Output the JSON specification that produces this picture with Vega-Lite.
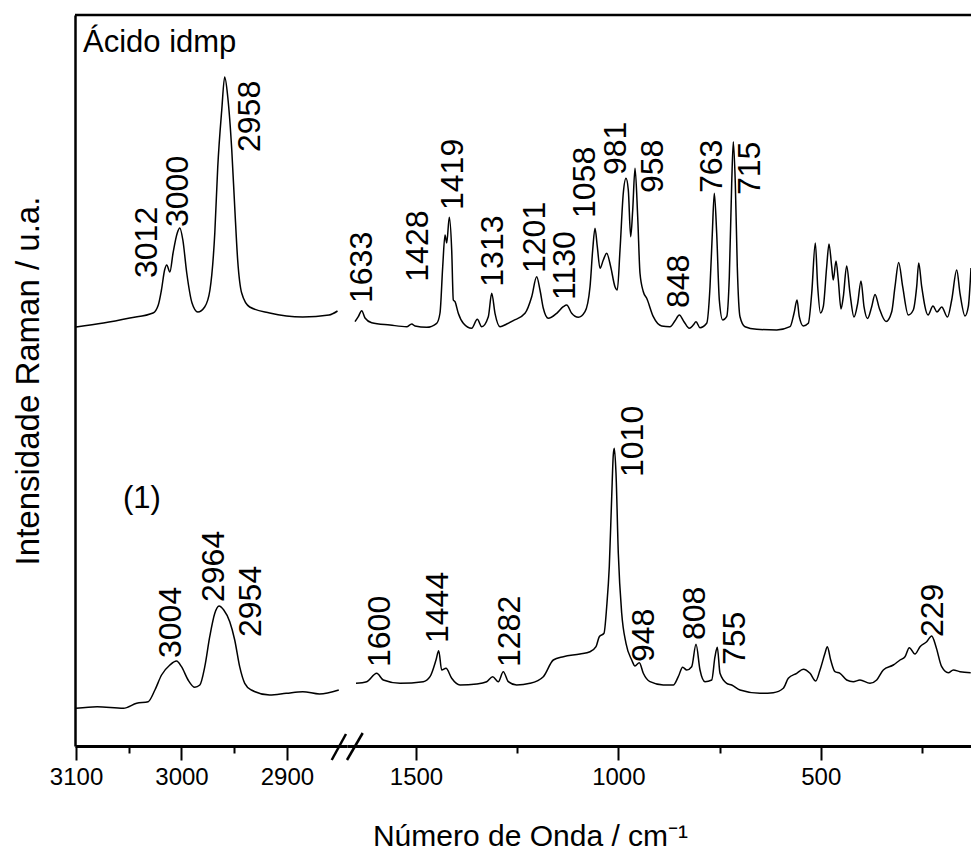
{
"$schema": "https://vega.github.io/schema/vega-lite/v6.json",
"width": 896,
"height": 731,
"autosize": {"type": "none"},
"padding": {"left": 75, "top": 15, "right": 0, "bottom": 106},
"background": "white",
"config": {"font": "Liberation Sans", "view": {"stroke": null}},
"datasets": {
"esq": [
{"s":"a","w":3100,"I":419},{"s":"a","w":3074,"I":423},{"s":"a","w":3049,"I":428},{"s":"a","w":3027,"I":433},{"s":"a","w":3022,"I":441},{"s":"a","w":3019,"I":456},{"s":"a","w":3016,"I":476},{"s":"a","w":3014,"I":481},{"s":"a","w":3011,"I":474},{"s":"a","w":3008,"I":493},{"s":"a","w":3004,"I":513},{"s":"a","w":3001.6,"I":518},{"s":"a","w":2998.7,"I":506},{"s":"a","w":2995,"I":473},{"s":"a","w":2990,"I":443},{"s":"a","w":2984.5,"I":434},{"s":"a","w":2978,"I":439},{"s":"a","w":2973,"I":456},{"s":"a","w":2968.4,"I":513},{"s":"a","w":2965.6,"I":579},{"s":"a","w":2961.8,"I":636},{"s":"a","w":2959,"I":669},{"s":"a","w":2956.1,"I":649},{"s":"a","w":2952.3,"I":596},{"s":"a","w":2949.5,"I":539},{"s":"a","w":2946.7,"I":486},{"s":"a","w":2942.9,"I":453},{"s":"a","w":2935.3,"I":439},{"s":"a","w":2916.4,"I":433},{"s":"a","w":2885,"I":429},{"s":"a","w":2860,"I":431},{"s":"a","w":2852,"I":435},
{"s":"b","w":3100,"I":37.7},{"s":"b","w":3080,"I":39.3},{"s":"b","w":3055,"I":37.7},{"s":"b","w":3042.5,"I":42.7},{"s":"b","w":3031.6,"I":44.3},{"s":"b","w":3025.2,"I":56},{"s":"b","w":3018.9,"I":71},{"s":"b","w":3011,"I":81},{"s":"b","w":3004.7,"I":85},{"s":"b","w":3000,"I":79.3},{"s":"b","w":2993.7,"I":66},{"s":"b","w":2987.4,"I":58.7},{"s":"b","w":2982.6,"I":61},{"s":"b","w":2977.9,"I":79.3},{"s":"b","w":2973.2,"I":109.3},{"s":"b","w":2968.4,"I":132.7},{"s":"b","w":2964.4,"I":140},{"s":"b","w":2959.9,"I":136},{"s":"b","w":2954.2,"I":124.3},{"s":"b","w":2949.5,"I":106},{"s":"b","w":2944.8,"I":79.3},{"s":"b","w":2940,"I":62.7},{"s":"b","w":2933.7,"I":56},{"s":"b","w":2916.4,"I":51},{"s":"b","w":2900.6,"I":52.7},{"s":"b","w":2884.9,"I":54.3},{"s":"b","w":2869.1,"I":52},{"s":"b","w":2850.8,"I":56}
],
"dir": [
{"s":"a","w":1650.7,"I":424.3},{"s":"a","w":1642.6,"I":429.3},{"s":"a","w":1634.2,"I":435.3},{"s":"a","w":1626,"I":428},{"s":"a","w":1609.5,"I":423.3},{"s":"a","w":1564.2,"I":421},{"s":"a","w":1523,"I":419.3},{"s":"a","w":1510.6,"I":422},{"s":"a","w":1502.5,"I":420},{"s":"a","w":1473.6,"I":418.7},{"s":"a","w":1448.9,"I":422.7},{"s":"a","w":1440.7,"I":433},{"s":"a","w":1434,"I":479.3},{"s":"a","w":1428.3,"I":511},{"s":"a","w":1424.1,"I":503},{"s":"a","w":1417.7,"I":528.7},{"s":"a","w":1411.8,"I":496},{"s":"a","w":1407.8,"I":446},{"s":"a","w":1403.6,"I":444.3},{"s":"a","w":1395.5,"I":432.7},{"s":"a","w":1383.1,"I":422.7},{"s":"a","w":1362.4,"I":417.7},{"s":"a","w":1348.5,"I":426.7},{"s":"a","w":1337.7,"I":419.3},{"s":"a","w":1321.3,"I":429.3},{"s":"a","w":1312.9,"I":452.7},{"s":"a","w":1304.8,"I":432.7},{"s":"a","w":1292.4,"I":419.3},{"s":"a","w":1275.9,"I":422},{"s":"a","w":1259.6,"I":425.3},{"s":"a","w":1230.7,"I":432.7},{"s":"a","w":1214.1,"I":449.3},{"s":"a","w":1201.8,"I":469.3},{"s":"a","w":1193.6,"I":456},{"s":"a","w":1185.4,"I":437.7},{"s":"a","w":1173.1,"I":427.7},{"s":"a","w":1152.3,"I":432.7},{"s":"a","w":1136,"I":439.3},{"s":"a","w":1127.6,"I":441},{"s":"a","w":1115.3,"I":432.7},{"s":"a","w":1098.9,"I":428.7},{"s":"a","w":1082.4,"I":434.3},{"s":"a","w":1070,"I":459.3},{"s":"a","w":1063.4,"I":496},{"s":"a","w":1057.7,"I":517.7},{"s":"a","w":1052,"I":499.3},{"s":"a","w":1045.3,"I":477.7},{"s":"a","w":1037.2,"I":486},{"s":"a","w":1028.8,"I":492.7},{"s":"a","w":1018.9,"I":479.3},{"s":"a","w":1008.3,"I":459.3},{"s":"a","w":1002.6,"I":456},{"s":"a","w":995.9,"I":496},{"s":"a","w":987.8,"I":552.7},{"s":"a","w":981.1,"I":567.7},{"s":"a","w":975.4,"I":556},{"s":"a","w":969.5,"I":509.3},{"s":"a","w":964.5,"I":536},{"s":"a","w":958.8,"I":577.7},{"s":"a","w":952.2,"I":529.3},{"s":"a","w":946.5,"I":472.7},{"s":"a","w":938.3,"I":454.3},{"s":"a","w":929.9,"I":447.7},{"s":"a","w":913.6,"I":429.3},{"s":"a","w":892.9,"I":420},{"s":"a","w":872.4,"I":419.3},{"s":"a","w":860,"I":425.3},{"s":"a","w":849.4,"I":431},{"s":"a","w":837.8,"I":424.3},{"s":"a","w":824.7,"I":417.7},{"s":"a","w":814.8,"I":421},{"s":"a","w":808.1,"I":424.3},{"s":"a","w":798.2,"I":418.3},{"s":"a","w":781.7,"I":422.7},{"s":"a","w":773.5,"I":459.3},{"s":"a","w":767.8,"I":512.7},{"s":"a","w":762.9,"I":552.7},{"s":"a","w":757,"I":512.7},{"s":"a","w":750.5,"I":446},{"s":"a","w":742.1,"I":426},{"s":"a","w":732.3,"I":429.3},{"s":"a","w":725.8,"I":469.3},{"s":"a","w":719.9,"I":562.7},{"s":"a","w":715.9,"I":604.3},{"s":"a","w":711,"I":562.7},{"s":"a","w":706.1,"I":479.3},{"s":"a","w":699.4,"I":429.3},{"s":"a","w":687,"I":419.3},{"s":"a","w":658.1,"I":416.7},{"s":"a","w":608.7,"I":416},{"s":"a","w":575.8,"I":419.3},{"s":"a","w":565.9,"I":432.7},{"s":"a","w":558.5,"I":446},{"s":"a","w":552.9,"I":429.3},{"s":"a","w":543,"I":420},{"s":"a","w":530.6,"I":422.7},{"s":"a","w":522.2,"I":452.7},{"s":"a","w":513.3,"I":503},{"s":"a","w":507.4,"I":459.3},{"s":"a","w":500.5,"I":433},{"s":"a","w":493.6,"I":439.3},{"s":"a","w":485.2,"I":479.3},{"s":"a","w":479.5,"I":502},{"s":"a","w":472.8,"I":479.3},{"s":"a","w":468.9,"I":466},{"s":"a","w":462.2,"I":485},{"s":"a","w":456.5,"I":466},{"s":"a","w":449.8,"I":437},{"s":"a","w":444.1,"I":449.3},{"s":"a","w":435.8,"I":480},{"s":"a","w":427.6,"I":452.7},{"s":"a","w":417.7,"I":429},{"s":"a","w":408.6,"I":442.7},{"s":"a","w":400.4,"I":465},{"s":"a","w":393,"I":439.3},{"s":"a","w":384.3,"I":427.5},{"s":"a","w":374,"I":439.3},{"s":"a","w":365.8,"I":451.5},{"s":"a","w":355.2,"I":437.7},{"s":"a","w":338.6,"I":424.5},{"s":"a","w":324.5,"I":434.3},{"s":"a","w":316.4,"I":459.3},{"s":"a","w":307.3,"I":483.5},{"s":"a","w":297.4,"I":459.3},{"s":"a","w":283.5,"I":431},{"s":"a","w":271.2,"I":436},{"s":"a","w":262.8,"I":459.3},{"s":"a","w":257.8,"I":483},{"s":"a","w":250.4,"I":459.3},{"s":"a","w":234.8,"I":431},{"s":"a","w":222.5,"I":440},{"s":"a","w":212.6,"I":434},{"s":"a","w":201,"I":439},{"s":"a","w":186.7,"I":429},{"s":"a","w":176.3,"I":446},{"s":"a","w":163.9,"I":476},{"s":"a","w":155.8,"I":452.7},{"s":"a","w":143.4,"I":430},{"s":"a","w":135.3,"I":439.3},{"s":"a","w":128.6,"I":478},
{"s":"b","w":1648.3,"I":62.7},{"s":"b","w":1621.8,"I":64.3},{"s":"b","w":1597.1,"I":72.7},{"s":"b","w":1580.8,"I":66},{"s":"b","w":1539.5,"I":62.7},{"s":"b","w":1482,"I":64.3},{"s":"b","w":1465.4,"I":69.3},{"s":"b","w":1450.6,"I":86},{"s":"b","w":1443.9,"I":95.3},{"s":"b","w":1436.5,"I":76},{"s":"b","w":1425.9,"I":77.7},{"s":"b","w":1411.8,"I":67.7},{"s":"b","w":1391.3,"I":61},{"s":"b","w":1350,"I":62},{"s":"b","w":1325.3,"I":64.3},{"s":"b","w":1310.5,"I":69.3},{"s":"b","w":1296.6,"I":64.3},{"s":"b","w":1284.3,"I":74.3},{"s":"b","w":1271.9,"I":64.3},{"s":"b","w":1251.2,"I":61},{"s":"b","w":1218.3,"I":62.7},{"s":"b","w":1185.4,"I":69.3},{"s":"b","w":1160.7,"I":86},{"s":"b","w":1136,"I":89.3},{"s":"b","w":1094.8,"I":92},{"s":"b","w":1070,"I":94.3},{"s":"b","w":1055.2,"I":99.3},{"s":"b","w":1047.1,"I":109.3},{"s":"b","w":1035.5,"I":112.7},{"s":"b","w":1028.8,"I":139.3},{"s":"b","w":1022.4,"I":179.3},{"s":"b","w":1016.4,"I":249.3},{"s":"b","w":1012.5,"I":291},{"s":"b","w":1010,"I":297.7},{"s":"b","w":1005.8,"I":272.7},{"s":"b","w":1000.1,"I":192.7},{"s":"b","w":991.7,"I":132.7},{"s":"b","w":981.1,"I":102.7},{"s":"b","w":967,"I":86},{"s":"b","w":958.9,"I":80},{"s":"b","w":948.2,"I":83.3},{"s":"b","w":938.3,"I":72.7},{"s":"b","w":921.8,"I":64.3},{"s":"b","w":888.9,"I":61},{"s":"b","w":864.2,"I":61},{"s":"b","w":851.9,"I":69.3},{"s":"b","w":841,"I":78.7},{"s":"b","w":831.1,"I":76},{"s":"b","w":818.8,"I":79.3},{"s":"b","w":808.1,"I":101.7},{"s":"b","w":798.2,"I":76},{"s":"b","w":785.9,"I":64.3},{"s":"b","w":769.3,"I":66},{"s":"b","w":761.2,"I":89.3},{"s":"b","w":755.5,"I":98.7},{"s":"b","w":748.8,"I":72.7},{"s":"b","w":732.3,"I":62.7},{"s":"b","w":719.9,"I":61},{"s":"b","w":699.4,"I":56},{"s":"b","w":650,"I":52.7},{"s":"b","w":617.1,"I":53.3},{"s":"b","w":592.4,"I":57.7},{"s":"b","w":580,"I":67.7},{"s":"b","w":559.3,"I":72.7},{"s":"b","w":543,"I":76.7},{"s":"b","w":526.4,"I":72.7},{"s":"b","w":512.3,"I":65},{"s":"b","w":501.7,"I":76},{"s":"b","w":489.4,"I":92.7},{"s":"b","w":483.7,"I":99.3},{"s":"b","w":475.3,"I":86},{"s":"b","w":464.7,"I":74.3},{"s":"b","w":452.3,"I":72.7},{"s":"b","w":435.8,"I":66},{"s":"b","w":419.4,"I":64.3},{"s":"b","w":402.9,"I":66},{"s":"b","w":378.2,"I":62.7},{"s":"b","w":361.6,"I":66},{"s":"b","w":345.3,"I":76},{"s":"b","w":320.6,"I":81},{"s":"b","w":304,"I":86},{"s":"b","w":291.7,"I":89.3},{"s":"b","w":281,"I":98.3},{"s":"b","w":267,"I":92},{"s":"b","w":254.6,"I":99.3},{"s":"b","w":238.1,"I":104.3},{"s":"b","w":225.7,"I":110},{"s":"b","w":215.1,"I":99.3},{"s":"b","w":201,"I":79.3},{"s":"b","w":184.7,"I":73.3},{"s":"b","w":172.3,"I":76},{"s":"b","w":155.8,"I":74.3},{"s":"b","w":129.3,"I":73.3}
],
"rotEsq": [
{"t":"3012","w":3033.1,"I":468},{"t":"3000","w":3003.2,"I":519},{"t":"2958","w":2935.3,"I":594},
{"t":"3004","w":3010.3,"I":88},{"t":"2964","w":2969.4,"I":144},{"t":"2954","w":2933.7,"I":109}
],
"rotDir": [
{"t":"1633","w":1634.2,"I":443},{"t":"1428","w":1495.1,"I":464.3},{"t":"1419","w":1407.8,"I":536},{"t":"1313","w":1309,"I":459.3},{"t":"1201","w":1205.9,"I":473},{"t":"1130","w":1131.8,"I":446},{"t":"1058","w":1082.4,"I":528},{"t":"981","w":1005.8,"I":571},{"t":"958","w":914.4,"I":553},{"t":"848","w":850.1,"I":438},{"t":"763","w":769.3,"I":553},{"t":"715","w":674.7,"I":551},
{"t":"1600","w":1589,"I":79},{"t":"1444","w":1445.6,"I":103},{"t":"1282","w":1267.7,"I":79},{"t":"1010","w":963,"I":269},{"t":"948","w":936.6,"I":84},{"t":"808","w":810.6,"I":106},{"t":"755","w":711,"I":81},{"t":"229","w":221.8,"I":109}
],
"notas": [
{"t":"Ácido idmp","w":3093.4,"I":694},{"t":"(1)","w":3055.5,"I":238}
],
"quebra": [
{"w":1708.3,"w2":1673,"I":-14,"I2":12},{"w":1670.5,"w2":1631.7,"I":-14,"I2":13}
],
"topo": [
{"u":0,"I":731},{"u":1,"I":731}
]
},
"encoding": {
"y": {"field": "I", "type": "quantitative", "scale": {"domain": [0, 731], "nice": false, "zero": false},
"axis": {"title": "Intensidade Raman / u.a.", "labels": false, "ticks": false, "grid": false, "domain": true, "domainColor": "black", "domainWidth": 2.5, "titleFontSize": 33, "titleFontWeight": "normal", "titleColor": "black", "titleFont": "Liberation Sans", "titlePadding": 30}}
},
"layer": [
{
"encoding": {
"x": {"field": "w", "type": "quantitative",
"scale": {"domain": [3101, 2843], "range": [0, 272], "nice": false, "zero": false},
"axis": {"orient": "bottom", "title": null, "values": [3100, 3050, 3000, 2950, 2900], "format": "d", "labelExpr": "datum.value % 100 === 0 ? datum.label : ''", "grid": false, "domainColor": "black", "domainWidth": 3, "tickColor": "black", "tickWidth": 2, "tickSize": {"condition": {"test": "datum.value % 100 === 0", "value": 14}, "value": 7}, "labelFontSize": 24, "labelColor": "black", "labelFont": "Liberation Sans", "labelPadding": 5, "labelFlush": false, "labelOverlap": false}}
},
"layer": [
{"data": {"name": "esq"}, "mark": {"type": "line", "color": "black", "strokeWidth": 1.5, "interpolate": "monotone"}, "encoding": {"detail": {"field": "s"}}},
{"data": {"name": "rotEsq"}, "mark": {"type": "text", "angle": 270, "align": "left", "baseline": "middle", "fontSize": 32, "color": "black"}, "encoding": {"text": {"field": "t"}}},
{"data": {"name": "notas"}, "mark": {"type": "text", "align": "left", "baseline": "alphabetic", "fontSize": 31, "color": "black"}, "encoding": {"text": {"field": "t"}}}
]
},
{
"encoding": {
"x": {"field": "w", "type": "quantitative",
"scale": {"domain": [1670.5, 128.6], "range": [272, 896], "nice": false, "zero": false},
"axis": {"orient": "bottom", "title": "Número de Onda / cm⁻¹", "titleFontSize": 30, "titleFontWeight": "normal", "titleColor": "black", "titleFont": "Liberation Sans", "titleX": 455, "titleY": 99, "titleAlign": "center", "titleBaseline": "alphabetic", "values": [1500, 1250, 1000, 750, 500, 250], "format": "d", "labelExpr": "datum.value % 500 === 0 ? datum.label : ''", "grid": false, "domainColor": "black", "domainWidth": 3, "tickColor": "black", "tickWidth": 2, "tickSize": {"condition": {"test": "datum.value % 500 === 0", "value": 14}, "value": 7}, "labelFontSize": 24, "labelColor": "black", "labelFont": "Liberation Sans", "labelPadding": 5, "labelFlush": false, "labelOverlap": false}}
},
"layer": [
{"data": {"name": "dir"}, "mark": {"type": "line", "color": "black", "strokeWidth": 1.5, "interpolate": "monotone"}, "encoding": {"detail": {"field": "s"}}},
{"data": {"name": "rotDir"}, "mark": {"type": "text", "angle": 270, "align": "left", "baseline": "middle", "fontSize": 32, "color": "black"}, "encoding": {"text": {"field": "t"}}},
{"data": {"name": "quebra"}, "mark": {"type": "rule", "color": "black", "strokeWidth": 2.5}, "encoding": {"x2": {"field": "w2"}, "y2": {"field": "I2"}}}
]
},
{
"data": {"name": "topo"},
"mark": {"type": "line", "color": "black", "strokeWidth": 2.5},
"encoding": {
"x": {"field": "u", "type": "quantitative", "scale": {"domain": [0, 1], "range": [0, 896], "nice": false, "zero": false}, "axis": null}
}
}
],
"resolve": {"scale": {"x": "independent"}, "axis": {"x": "independent"}}
}
